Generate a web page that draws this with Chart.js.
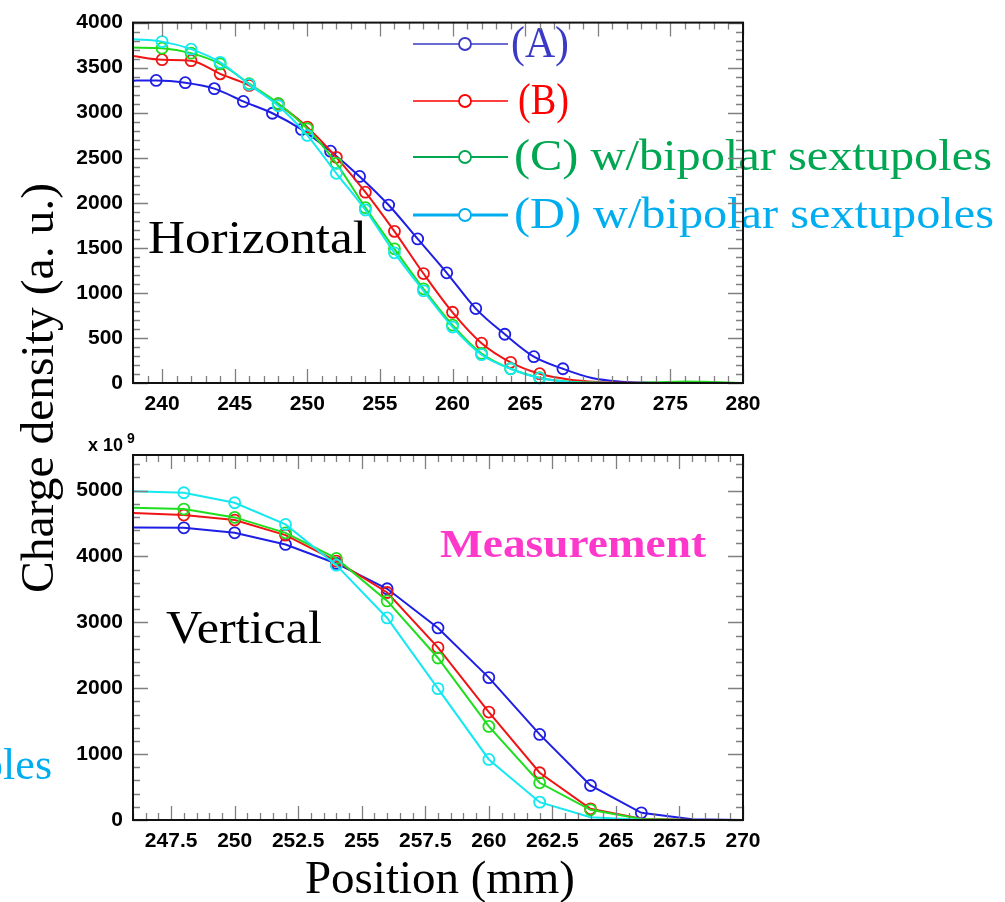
<!DOCTYPE html>
<html>
<head>
<meta charset="utf-8">
<title>Charge density profiles</title>
<script src="https://cdn.jsdelivr.net/npm/chart.js@4.4.0/dist/chart.umd.min.js"></script>
<style>
  html, body { margin: 0; padding: 0; background: #fff; }
  #wrap { position: relative; width: 1005px; height: 902px; }
  #wrap canvas { position: absolute; left: 0; top: 0; }
</style>
</head>
<body>
<div id="wrap">
  <canvas id="horizontal" width="1005" height="902"></canvas>
  <canvas id="vertical" width="1005" height="902"></canvas>
</div>
<script>
// ---- horizontal profile (mm, a.u.) ----
const hPosA = [237.6, 239.6, 241.6, 243.6, 245.6, 247.6, 249.6, 251.6, 253.6, 255.6, 257.6, 259.6,
               261.6, 263.6, 265.6, 267.6, 269.6, 271.6, 273.6, 275.6, 277.6, 279.6, 281.6];
const hPos  = [238, 240, 242, 244, 246, 248, 250, 252, 254, 256, 258, 260,
               262, 264, 266, 268, 270, 272, 274, 276, 278, 280];
const hA = [3355, 3358, 3333, 3267, 3125, 2994, 2814, 2573, 2293, 1975, 1599, 1223,
            826, 541, 292, 158, 55, 15, 3, 0, 0, 0, 0];
const hB = [3630, 3588, 3577, 3431, 3303, 3095, 2840, 2505, 2118, 1683, 1215, 785,
            442, 230, 103, 40, 12, 3, 0, 0, 0, 0];
const hC = [3723, 3716, 3661, 3541, 3322, 3103, 2822, 2438, 1946, 1489, 1045, 643,
            328, 158, 59, 15, 3, 0, 8, 18, 10, 0];
const hD = [3815, 3789, 3705, 3559, 3314, 3077, 2748, 2327, 1920, 1445, 1023, 621,
            314, 158, 55, 12, 2, 0, 0, 0, 0, 0];

// ---- vertical profile ----
const vPos = [246, 248, 250, 252, 254, 256, 258, 260, 262, 264, 266, 268, 270];
const vA = [4440, 4435, 4359, 4182, 3894, 3510, 2915, 2161, 1299, 524, 109, 10, 0];
const vB = [4660, 4628, 4552, 4324, 3929, 3453, 2617, 1638, 717, 170, 20, 0, 0];
const vC = [4740, 4719, 4593, 4359, 3970, 3325, 2459, 1421, 565, 155, 15, 0, 0];
const vD = [4990, 4967, 4815, 4486, 3868, 3067, 1994, 919, 271, 43, 5, 0, 0];

const seriesNames = ['(A)', '(B)', '(C) w/bipolar sextupoles', '(D) w/bipolar sextupoles'];

// axis ticks
const hXTicks = [240, 245, 250, 255, 260, 265, 270, 275, 280];
const hYTicks = [0, 500, 1000, 1500, 2000, 2500, 3000, 3500, 4000];
const vXTicks = [247.5, 250, 252.5, 255, 257.5, 260, 262.5, 265, 267.5, 270];
const vYTicks = [0, 1000, 2000, 3000, 4000, 5000];

const lineColors = ['rgb(30,30,228)', 'rgb(240,20,20)', 'rgb(30,222,30)', 'rgb(20,232,240)'];
const keyColors  = ['#3a3ac6', '#ff0000', '#00a651', '#00aeef'];

function pts(xs, ys) {
  return xs.map((x, i) => ({ x: x, y: ys[i] }));
}

function series(i, xs, ys, marks, tension) {
  return {
    label: seriesNames[i],
    data: pts(xs, ys),
    borderColor: lineColors[i],
    borderWidth: 2,
    keyColor: keyColors[i],
    order: 3 - i,
    tension: tension,
    cubicInterpolationMode: tension ? 'monotone' : 'default',
    clip: { left: 0, right: 0, top: 0, bottom: 2 },
    pointStyle: 'circle',
    pointBackgroundColor: 'rgba(0,0,0,0)',
    pointBorderColor: lineColors[i],
    pointBorderWidth: 1.8,
    pointRadius: c => (c.dataIndex >= marks[0] && c.dataIndex <= marks[1]) ? 5.5 : 0,
    pointHoverRadius: 0
  };
}

// fits a string into a given width by stretching it horizontally
function fitText(ctx, text, x, y, width, align) {
  const w = ctx.measureText(text).width;
  const sx = width ? width / w : 1;
  ctx.save();
  ctx.translate(x, y);
  ctx.scale(sx, 1);
  ctx.textAlign = align || 'left';
  ctx.fillText(text, 0, 0);
  ctx.restore();
}

// ROOT style frame: black box, ticks pointing inwards on all four sides
const rootFrame = {
  id: 'rootFrame',
  afterDraw(chart, args, o) {
    const { ctx, chartArea: a, scales: { x, y } } = chart;
    const isMajor = (s, v) => s.ticks.some(t => Math.abs(t.value - v) < 1e-6);
    ctx.save();
    ctx.strokeStyle = '#808080';
    ctx.lineWidth = 1.3;
    ctx.beginPath();
    const nx = Math.round((x.max - x.min) / o.xMinor);
    for (let i = 0; i <= nx; i++) {
      const v = x.min + i * o.xMinor;
      const px = Math.round(x.getPixelForValue(v)) + 0.5;
      const len = isMajor(x, v) ? 14 : 7;
      ctx.moveTo(px, a.bottom); ctx.lineTo(px, a.bottom - len);
      ctx.moveTo(px, a.top); ctx.lineTo(px, a.top + len);
    }
    const ny = Math.floor((y.max - y.min) / o.yMinor + 1e-6);
    for (let i = 0; i <= ny; i++) {
      const v = y.min + i * o.yMinor;
      const py = Math.round(y.getPixelForValue(v)) + 0.5;
      const len = isMajor(y, v) ? 15 : 7;
      ctx.moveTo(a.left, py); ctx.lineTo(a.left + len, py);
      ctx.moveTo(a.right, py); ctx.lineTo(a.right - len, py);
    }
    ctx.stroke();
    ctx.strokeStyle = '#111';
    ctx.lineWidth = 2;
    ctx.strokeRect(a.left, a.top, a.right - a.left, a.bottom - a.top);
    ctx.restore();
  }
};

// line + marker key drawn from the datasets
const seriesKey = {
  id: 'seriesKey',
  afterDatasetsDraw(chart, args, o) {
    const ctx = chart.ctx;
    ctx.save();
    ctx.font = o.font;
    ctx.textBaseline = 'alphabetic';
    chart.data.datasets.forEach((ds, i) => {
      const yy = o.rows[i];
      ctx.strokeStyle = ds.keyColor;
      ctx.lineWidth = o.lineWidths[i];
      ctx.beginPath();
      ctx.moveTo(o.x0, yy); ctx.lineTo(o.x1, yy);
      ctx.stroke();
      ctx.lineWidth = 1.8;
      ctx.fillStyle = '#fff';
      ctx.beginPath();
      ctx.arc(o.mark, yy, 6, 0, Math.PI * 2);
      ctx.fill();
      ctx.stroke();
      ctx.fillStyle = ds.keyColor;
      fitText(ctx, ds.label, o.textX[i], yy + 13, o.widths[i]);
    });
    ctx.restore();
  }
};

// free labels on the page
const panelText = {
  id: 'panelText',
  afterDraw(chart, args, o) {
    const ctx = chart.ctx;
    o.items.forEach(t => {
      ctx.save();
      ctx.font = t.font;
      ctx.fillStyle = t.color || '#000';
      ctx.textBaseline = t.baseline || 'alphabetic';
      if (t.rotate) {
        ctx.translate(t.x, t.y);
        ctx.rotate(t.rotate);
        fitText(ctx, t.text, 0, 0, t.width, t.align);
      } else {
        fitText(ctx, t.text, t.x, t.y, t.width, t.align);
      }
      ctx.restore();
    });
  }
};

const tickFont = { family: "'Liberation Sans', Arial, sans-serif", size: 21, weight: 'bold' };
const serif = "'Liberation Serif', 'Times New Roman', serif";

function axes(xMin, xMax, xTicks, yMax, yTicks) {
  return {
    x: {
      type: 'linear', min: xMin, max: xMax,
      afterBuildTicks: s => { s.ticks = xTicks.map(v => ({ value: v })); },
      afterFit: s => { s.height = 40; },
      grid: { display: false, drawTicks: false },
      border: { display: false },
      ticks: { font: tickFont, color: '#000', padding: 9, maxRotation: 0, autoSkip: false,
               callback: v => String(v) }
    },
    y: {
      type: 'linear', min: 0, max: yMax,
      afterBuildTicks: s => { s.ticks = yTicks.map(v => ({ value: v })); },
      afterFit: s => { s.width = 133; },
      grid: { display: false, drawTicks: false },
      border: { display: false },
      ticks: { font: tickFont, color: '#000', padding: 10, autoSkip: false,
               callback: v => String(v) }
    }
  };
}

new Chart(document.getElementById('horizontal'), {
  type: 'line',
  data: {
    datasets: [
      series(0, hPosA, hA, [1, 15], 0.4),
      series(1, hPos, hB, [1, 14], 0.4),
      series(2, hPos, hC, [1, 14], 0.4),
      series(3, hPos, hD, [1, 14], 0.4)
    ]
  },
  options: {
    responsive: false, animation: false, devicePixelRatio: 1,
    layout: { padding: { left: 0, right: 262, top: 17, bottom: 479 } },
    scales: axes(238, 280, hXTicks, 4000, hYTicks),
    plugins: {
      legend: { display: false },
      tooltip: { enabled: false },
      rootFrame: { xMinor: 1, yMinor: 100 },
      seriesKey: {
        font: '44px ' + serif,
        x0: 413, x1: 508, mark: 465,
        rows: [44, 101, 157, 215],
        lineWidths: [1.6, 1.6, 1.8, 2.8],
        textX: [511, 518, 514, 514],
        widths: [58, 51, 478, 480]
      },
      panelText: {
        items: [
          { text: 'Horizontal', x: 148, y: 253, font: '47px ' + serif, width: 219 }
        ]
      }
    }
  },
  plugins: [seriesKey, panelText, rootFrame]
});

new Chart(document.getElementById('vertical'), {
  type: 'line',
  data: {
    datasets: [
      series(0, vPos, vA, [1, 10], 0),
      series(1, vPos, vB, [1, 9], 0),
      series(2, vPos, vC, [1, 9], 0),
      series(3, vPos, vD, [1, 8], 0)
    ]
  },
  options: {
    responsive: false, animation: false, devicePixelRatio: 1,
    layout: { padding: { left: 0, right: 262, top: 455, bottom: 42 } },
    scales: axes(246, 270, vXTicks, 5540, vYTicks),
    plugins: {
      legend: { display: false },
      tooltip: { enabled: false },
      rootFrame: { xMinor: 0.5, yMinor: 200 },
      panelText: {
        items: [
          { text: 'Vertical', x: 166, y: 643, font: '47px ' + serif, width: 156 },
          { text: 'Measurement', x: 440, y: 557, font: 'bold 41px ' + serif, width: 266, color: '#ff38cc' },
          { text: 'x 10', x: 123, y: 451, font: "bold 18px 'Liberation Sans', Arial, sans-serif", align: 'right' },
          { text: '9', x: 127, y: 443, font: "bold 14px 'Liberation Sans', Arial, sans-serif" },
          { text: 'sextupoles', x: 52, y: 779, font: '44px ' + serif, align: 'right', color: '#00aeef' },
          { text: 'Position (mm)', x: 440, y: 893, font: '46px ' + serif, width: 270, align: 'center' },
          { text: 'Charge density (a. u.)', x: 53, y: 388, font: '47px ' + serif, width: 410,
            align: 'center', rotate: -Math.PI / 2 }
        ]
      }
    }
  },
  plugins: [panelText, rootFrame]
});
</script>
</body>
</html>
